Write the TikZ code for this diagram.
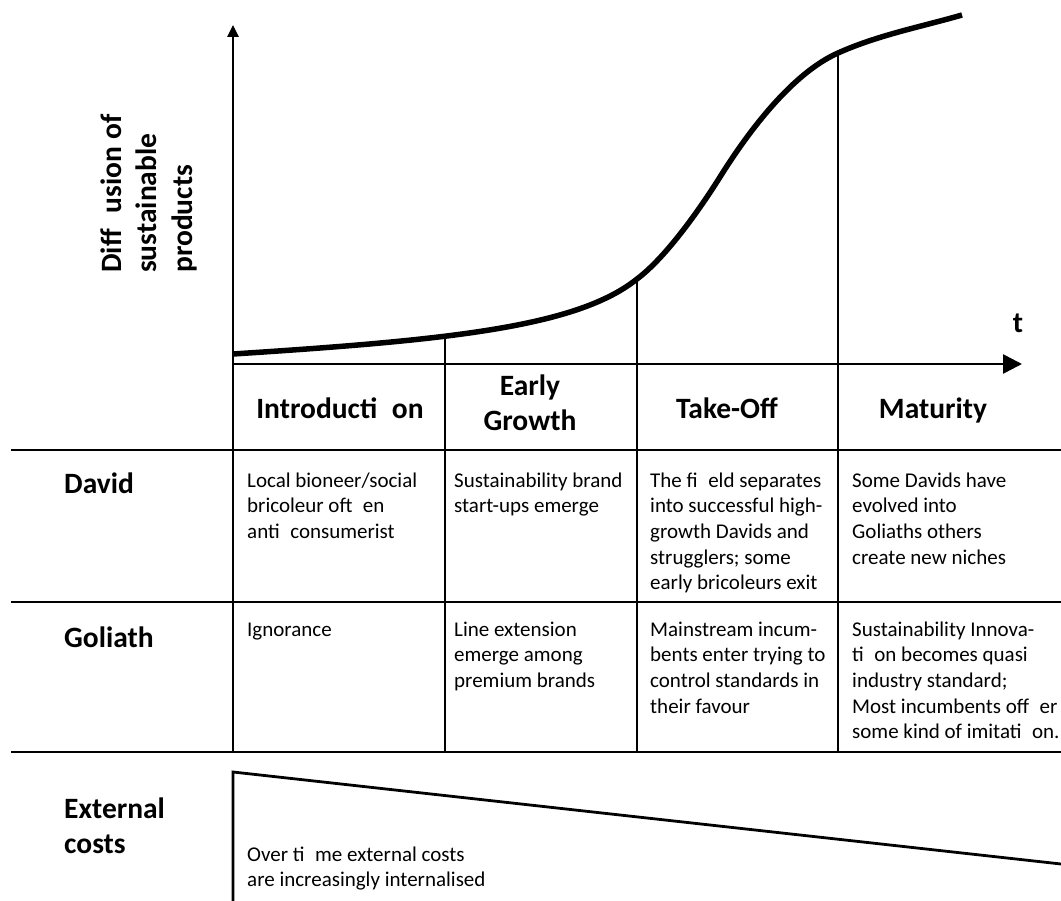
\documentclass[tikz,border=0pt]{standalone}
\usepackage{fontspec}
\setmainfont{Carlito}
\usetikzlibrary{arrows.meta}
\newcommand\gp{\hspace{0.5em}}
\newcommand\cellfont{\fontsize{21}{25.7}\selectfont}
\newcommand\headfont{\fontsize{29.5}{35.5}\selectfont\bfseries}
\begin{document}
\begin{tikzpicture}[x=1pt,y=-1pt,
  cell/.style={font=\cellfont, align=left, anchor=north west, inner sep=0pt},
  rowlab/.style={font=\headfont, align=left, anchor=north west, inner sep=0pt},
  stagelab/.style={font=\headfont, align=center, anchor=north, inner sep=0pt},
  axis/.style={line width=2.6pt},
  grid/.style={line width=2.8pt},
  phase/.style={line width=2.4pt},
  curve/.style={line width=5.5pt}]
\useasboundingbox (0,0) rectangle (1061,901);
% coordinates
\coordinate (ytop) at (233,25);
\coordinate (O) at (233,364);
\coordinate (xend) at (1022,364);
\coordinate (tabL) at (233,752);
\coordinate (c0) at (233,354);
\coordinate (c1) at (445,339);
\coordinate (c2) at (637,279);
\coordinate (cm) at (720,177);
\coordinate (c3) at (838,53);
\coordinate (c4) at (962,15);
\coordinate (b1) at (445,752);
\coordinate (b2) at (637,752);
\coordinate (b3) at (838,752);
\coordinate (h1L) at (11,450);
\coordinate (h1R) at (1061,450);
\coordinate (h2L) at (11,602);
\coordinate (h2R) at (1061,602);
\coordinate (h3L) at (11,752);
\coordinate (h3R) at (1061,752);
\coordinate (eTop) at (233,772);
\coordinate (eBot) at (233,901);
\coordinate (eR) at (1061,864);
% axes
\draw[axis, {Triangle[length=12pt,width=11pt]}-] (ytop) -- (tabL);
\draw[axis, -{Triangle[length=19pt,width=19pt]}] (O) -- (xend);
% phase lines
\draw[phase] (c1) -- (b1);
\draw[phase] (c2) -- (b2);
\draw[phase] (c3) -- (b3);
% table lines
\draw[grid] (h1L) -- (h1R);
\draw[grid] (h2L) -- (h2R);
\draw[grid] (h3L) -- (h3R);
% external costs wedge
\draw[grid, line cap=butt] (eBot) -- (eTop) -- (eR);
% diffusion curve
\draw[curve, line cap=butt] (c0) .. controls (450,340) and (577,327) .. (c2)
  .. controls (665,258) and (698,212) .. (cm)
  .. controls (750,129) and (793,73) .. (c3)
  .. controls (878,35) and (922,26.6) .. (c4);
% y axis label
\node[rowlab, rotate=90] (ylab) at (96,273) {\strut Diff\hspace{0.55em}usion of\\sustainable\\products};
\node[font=\headfont, anchor=base, inner sep=0pt] (tlab) at (1018,333) {t};
% stage labels
\node[font=\headfont, anchor=base, inner sep=0pt] (s1) at (340,418) {Introducti\gp on};
\node[stagelab] (s2) at (530,395-24.85) {\strut Early\\Growth};
\node[font=\headfont, anchor=base, inner sep=0pt] (s3) at (727,418) {Take-Off};
\node[font=\headfont, anchor=base, inner sep=0pt] (s4) at (933,418) {Maturity};
% row labels
\node[font=\headfont, anchor=base west, inner sep=0pt] (rD) at (64,493) {David};
\node[font=\headfont, anchor=base west, inner sep=0pt] (rG) at (64,647) {Goliath};
\node[rowlab] (rE) at (64,818-24.85) {\strut External\\costs};
% David row
\node[cell] (d1) at (247,487-18) {\strut Local bioneer/social\\bricoleur oft\gp en\\anti\gp consumerist};
\node[cell] (d2) at (454,487-18) {\strut Sustainability brand\\start-ups emerge};
\node[cell] (d3) at (650,487-18) {\strut The fi\gp eld separates\\into successful high-\\growth Davids and\\strugglers; some\\early bricoleurs exit};
\node[cell] (d4) at (852,487-18) {\strut Some Davids have\\evolved into\\Goliaths others\\create new niches};
% Goliath row
\node[cell] (g1) at (247,636-18) {\strut Ignorance};
\node[cell] (g2) at (454,636-18) {\strut Line extension\\emerge among\\premium brands};
\node[cell] (g3) at (650,636-18) {\strut Mainstream incum-\\bents enter trying to\\control standards in\\their favour};
\node[cell] (g4) at (852,636-18) {\strut Sustainability Innova-\\ti\gp on becomes quasi\\industry standard;\\Most incumbents off\gp er\\some kind of imitati\gp on.};
% external costs text
\node[cell] (e1) at (247,861-18) {\strut Over ti\gp me external costs\\are increasingly internalised};
\end{tikzpicture}
\end{document}
